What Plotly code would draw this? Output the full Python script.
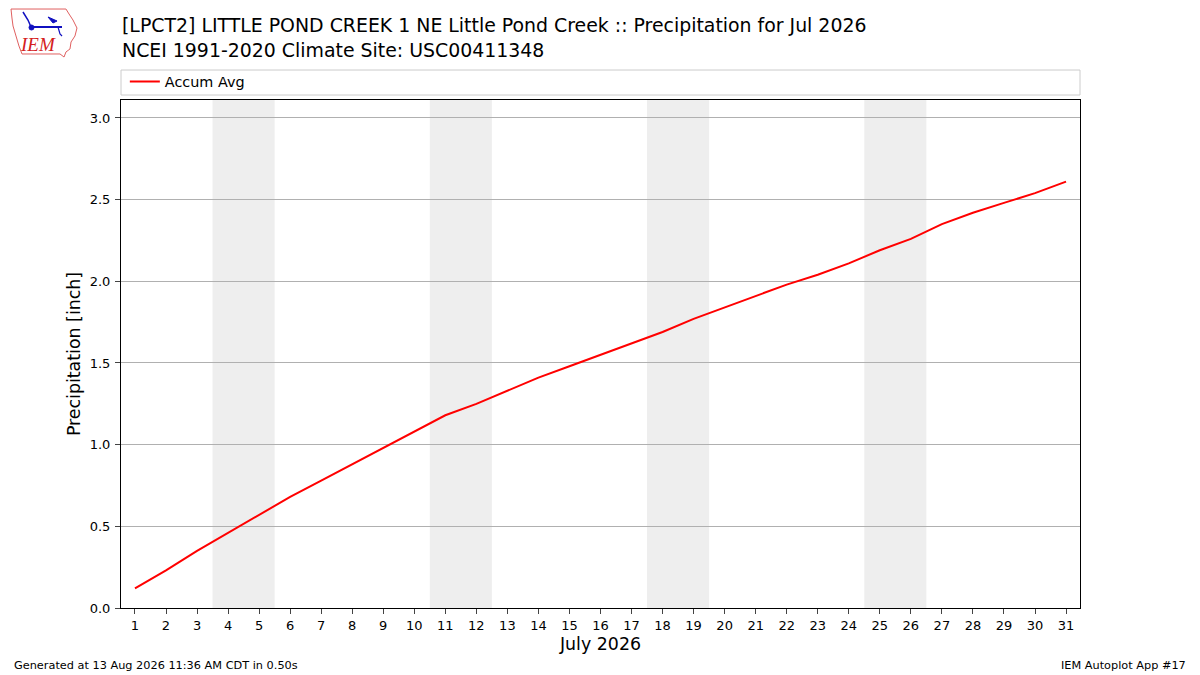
import plotly.graph_objects as go

# 数据 (July 2026 accumulated average precipitation, inch)
days = list(range(1, 32))
accum_avg = [0.12, 0.23, 0.35, 0.46, 0.57, 0.68, 0.78, 0.88, 0.98, 1.08,
             1.18, 1.25, 1.33, 1.41, 1.48, 1.55, 1.62, 1.69, 1.77, 1.84,
             1.91, 1.98, 2.04, 2.11, 2.19, 2.26, 2.35, 2.42, 2.48, 2.54,
             2.61]
weekend_starts = [4, 11, 18, 25]  # Saturdays
y_ticks = [0.0, 0.5, 1.0, 1.5, 2.0, 2.5, 3.0]

title_lines = ["[LPCT2] LITTLE POND CREEK 1 NE Little Pond Creek :: Precipitation for Jul 2026",
               "NCEI 1991-2020 Climate Site: USC00411348"]

font = "DejaVu Sans"


def px(x, y):
    # page pixel -> paper coords (plot area 121..1080, 100..608)
    return (x - 121) / 959.0, (608 - y) / 508.0


def path_of(points, close=True):
    parts = []
    for i, (x, y) in enumerate(points):
        a, b = px(x, y)
        parts.append(("M " if i == 0 else "L ") + "%.4f,%.4f" % (a, b))
    return " ".join(parts) + (" Z" if close else "")


fig = go.Figure()
fig.add_trace(go.Scatter(x=days, y=accum_avg, mode="lines", name="Accum Avg",
                         line=dict(color="red", width=2)))

# weekend shading
shapes = []
for d in weekend_starts:
    shapes.append(dict(type="rect", xref="x", yref="paper", x0=d - 0.5, x1=d + 1.5,
                       y0=0, y1=1, fillcolor="#eeeeee", line_width=0, layer="below"))
# legend frame
shapes.append(dict(type="rect", xref="paper", yref="paper", x0=0, x1=1,
                   y0=1.0098, y1=1.059, line=dict(color="#cccccc", width=1),
                   fillcolor="white"))

# logo: rough Iowa outline + instrument
iowa = [(11, 9), (66, 9), (69, 14), (73, 20), (77, 28), (75, 36), (71, 42),
        (70, 49), (66, 52), (64, 57), (60, 54), (22, 54), (19, 46), (16, 36),
        (13, 26), (12, 18)]
shapes.append(dict(type="path", xref="paper", yref="paper", path=path_of(iowa),
                   line=dict(color="#e06060", width=1), fillcolor="rgba(0,0,0,0)"))
shapes.append(dict(type="path", xref="paper", yref="paper",
                   path=path_of([(31, 27), (62, 27)], close=False),
                   line=dict(color="#1010c0", width=2)))
shapes.append(dict(type="path", xref="paper", yref="paper",
                   path=path_of([(23, 12), (28, 20), (31, 27)], close=False),
                   line=dict(color="#1010c0", width=1.5)))
shapes.append(dict(type="path", xref="paper", yref="paper",
                   path=path_of([(48, 17), (57, 21), (53, 23)]),
                   line=dict(color="#1010c0", width=1), fillcolor="#1010c0"))
shapes.append(dict(type="path", xref="paper", yref="paper",
                   path=path_of([(58, 27), (60, 34), (62, 36)], close=False),
                   line=dict(color="#1010c0", width=1.2)))
a0, b0 = px(29, 25)
a1, b1 = px(34, 30)
shapes.append(dict(type="circle", xref="paper", yref="paper", x0=a0, x1=a1, y0=b1, y1=b0,
                   line=dict(color="#1010c0", width=1), fillcolor="#1010c0"))
fig.update_layout(shapes=shapes)

fx, fy = px(12, 665)
rx, _ = px(1188, 665)
tx, ty = px(120, 12)
lx, ly = px(38, 45)

annotations = [
    dict(text="<br>".join(title_lines), xref="paper", yref="paper", x=tx, y=ty,
         xanchor="left", yanchor="top", showarrow=False, align="left",
         font=dict(family=font, size=18.9, color="black")),
    dict(text="Generated at 13 Aug 2026 11:36 AM CDT in 0.50s", xref="paper", yref="paper",
         x=fx, y=fy, xanchor="left", yanchor="middle", showarrow=False,
         font=dict(family=font, size=11.3, color="black")),
    dict(text="IEM Autoplot App #17", xref="paper", yref="paper", x=rx, y=fy,
         xanchor="right", yanchor="middle", showarrow=False,
         font=dict(family=font, size=11.3, color="black")),
    dict(text="<i>IEM</i>", xref="paper", yref="paper", x=lx, y=ly,
         xanchor="center", yanchor="middle", showarrow=False,
         font=dict(family="Liberation Serif", size=19, color="#d42020")),
]

# page has an 8px body margin, so the figure is drawn 8px smaller and shifted
fig.update_layout(
    width=1192, height=667,
    margin=dict(l=113, r=120, t=92, b=67),
    paper_bgcolor="white", plot_bgcolor="white",
    font=dict(family=font, size=13, color="black"),
    annotations=annotations,
    showlegend=True,
    legend=dict(x=0.004, y=1.036, xanchor="left", yanchor="middle", itemwidth=30,
                bgcolor="rgba(0,0,0,0)", font=dict(family=font, size=14.4)),
    xaxis=dict(range=[0.55, 31.45], tickmode="array", tickvals=days,
               ticktext=[str(d) for d in days], ticks="outside", ticklen=5,
               showgrid=False, zeroline=False, showline=True, linecolor="black",
               mirror=True, title=dict(text="July 2026", font=dict(size=17.4), standoff=6)),
    yaxis=dict(range=[0, 3.11], tickmode="array", tickvals=y_ticks,
               ticktext=["%.1f" % v for v in y_ticks], ticks="outside", ticklen=5,
               ticklabelstandoff=2,
               showgrid=True, gridcolor="#b0b0b0", zeroline=False, showline=True,
               linecolor="black", mirror=True,
               title=dict(text="Precipitation [inch]", font=dict(size=17.4), standoff=4)),
)

fig.write_html("out.html")
